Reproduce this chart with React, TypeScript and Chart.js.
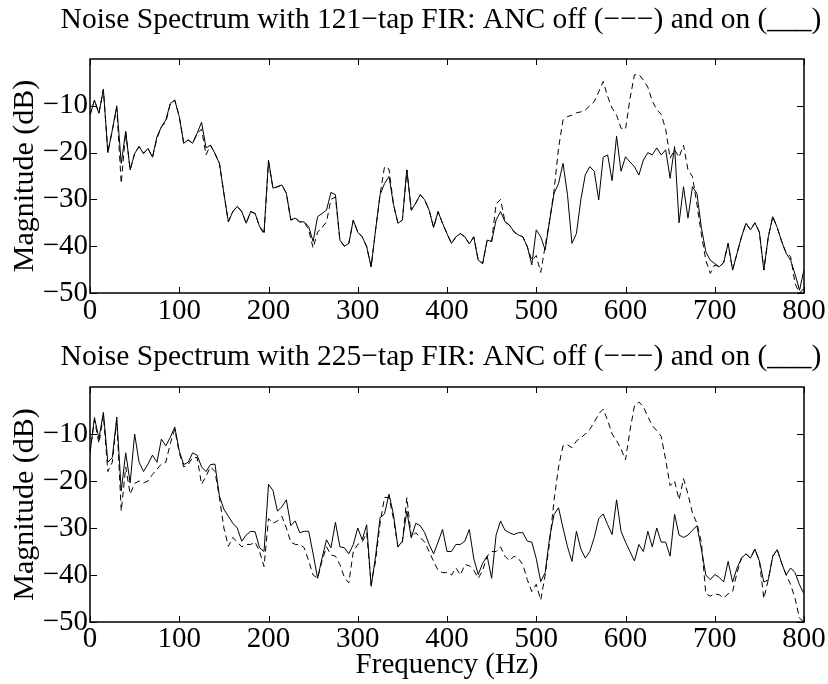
import React, { useEffect, useRef } from 'react';
import { Chart, registerables } from 'chart.js';

Chart.register(...registerables);

const FONT = "'Liberation Serif', 'Times New Roman', serif";
const FONT_SIZE = 29;
const TITLE_SIZE = 29.5;

// Frequency grid (Hz), 5 Hz spacing from 0 to 800
const FREQUENCIES: number[] = Array.from({ length: 161 }, (_, i) => i * 5);
const X_TICKS = [0, 100, 200, 300, 400, 500, 600, 700, 800];
const Y_TICKS = [-50, -40, -30, -20, -10];

const TITLE_121 = 'Noise Spectrum with 121\u2212tap FIR: ANC off (\u2212\u2212\u2212) and on (___)';
const TITLE_225 = 'Noise Spectrum with 225\u2212tap FIR: ANC off (\u2212\u2212\u2212) and on (___)';

// 121-tap FIR, ANC off (dashed), dB
const OFF_121 = [
  -12, -8.8, -11.6, -6.5, -20, -15.2, -10.5, -26.6, -15.5, -23.7,
  -20.2, -18.7, -20.2, -19.1, -21, -17, -14.5, -13.5, -9.5, -8.8,
  -12.3, -18, -17.3, -18, -15.9, -15, -20.5, -18.4, -20.2, -22.3,
  -28.7, -34.8, -32.6, -31.5, -32.6, -35.1, -32.6, -33, -35.8, -37.5,
  -22, -27.6, -27.3, -26.9, -28.7, -34.4, -34, -34.8, -34.8, -36.5,
  -40.4, -37, -36, -34.8, -30, -29.5, -38.7, -40, -39.4, -34.4,
  -37, -38, -40.1, -44.4, -36.5, -29, -23, -23.5, -31, -35.1,
  -34.4, -23.7, -32.3, -30.8, -29, -30.1, -32.3, -36, -32.6, -35.1,
  -37.3, -39.4, -38, -37.3, -38, -39.5, -38, -43, -43.7, -38.7,
  -39, -31, -30, -34.8, -35.5, -36.9, -37.6, -38, -40.1, -43,
  -42, -45.6, -40, -34.5, -28, -19, -13, -12.3, -12, -11.5,
  -11.3, -10.9, -10, -9.1, -7, -4.8, -8, -10.5, -12, -14.8,
  -15, -8.5, -3.4, -3.3, -4.5, -6, -9, -10.8, -11.8, -15,
  -21.2, -19.4, -21, -18.4, -23.7, -25.1, -31, -37.5, -43, -45.8,
  -44, -44.4, -43.5, -39.4, -45.1, -41.5, -38, -35.1, -36.5, -35,
  -37, -45.1, -38, -33.7, -36, -39, -41.5, -42.2, -48, -50,
  -49,
];

// 121-tap FIR, ANC on (solid), dB
const ON_121 = [
  -12, -8.8, -11.6, -6.5, -20, -15.2, -10, -22.3, -15.5, -23.7,
  -20.2, -18.7, -20.2, -19.1, -21, -16.6, -14.5, -13, -9.5, -8.8,
  -12.3, -18, -17.3, -18, -15.9, -13.5, -19, -18.4, -20.2, -22.3,
  -28.7, -34.8, -32.6, -31.5, -32.6, -35.1, -32.6, -33, -35.8, -37,
  -21.6, -27.6, -27.3, -26.9, -28.7, -34.4, -34, -34.8, -34.8, -35.8,
  -39, -33.7, -33, -32.3, -28.5, -29, -38.7, -40, -39.4, -34.4,
  -37, -38, -40.1, -44.4, -36.5, -29, -26.6, -25.1, -31, -35.1,
  -34.4, -23.7, -32.3, -30.8, -29, -30.1, -32.3, -36, -32.6, -35.1,
  -37.3, -39.4, -38, -37.3, -38, -39.5, -38, -43, -43.7, -38.7,
  -39, -34.4, -32.6, -34.8, -35.5, -36.9, -37.6, -38, -40.1, -44,
  -36.5, -38, -40.8, -34.5, -28.7, -26.6, -22.3, -29, -39.4, -37.3,
  -30, -24.7, -23, -24, -30.1, -21, -20.5, -26, -16.5, -24,
  -20.9, -22, -23, -24.8, -21.6, -20, -20.5, -19, -20.5, -19.4,
  -25.5, -18.7, -35, -27.3, -34, -27.3, -28.7, -36, -41.2, -43,
  -43.7, -44.4, -43.5, -39.4, -45.1, -41.5, -38, -35.1, -36.5, -35,
  -37, -45.1, -38, -33.7, -36, -39, -41.5, -43, -46, -49.4,
  -45,
];

// 225-tap FIR, ANC off (dashed), dB
const OFF_225 = [
  -14, -7, -12, -6, -18, -16, -7, -26.4, -17, -22.8,
  -20.5, -20, -20.4, -20, -18.6, -17.5, -16.4, -16, -12, -9,
  -14, -17, -16.5, -15, -15, -20.7, -19, -17, -18, -23.5,
  -30, -33.9, -32, -33, -34, -33.5, -33.5, -33, -35, -38.2,
  -28, -29, -28.5, -27.5, -30, -33, -33.5, -33.5, -34.2, -37,
  -40, -40.7, -37, -34, -35.7, -36, -37.8, -40.5, -41.7, -35,
  -33.5, -33, -31, -42, -37, -29, -23.5, -23.5, -28, -34,
  -33, -23.5, -32, -31, -32, -33, -35, -37.1, -39, -39.5,
  -39.5, -40, -38.5, -40, -37.8, -38, -39, -40.7, -39, -36,
  -35, -35, -34, -36, -37, -36, -36.5, -37.8, -41, -43.5,
  -42, -45.3, -40, -33, -24, -17, -12.5, -12.3, -12.9, -11.5,
  -10.8, -10, -9, -7.5, -5.7, -4.7, -7.1, -10, -11.4, -13.2,
  -15.5, -9.3, -4, -3.2, -4.2, -6.3, -8.2, -9.3, -10.5, -15.5,
  -21, -20, -24, -19.5, -22.8, -26.8, -29, -33, -44, -44.5,
  -44, -44.2, -44.9, -44, -43.5, -39.5, -36.4, -35.5, -36.4, -34.5,
  -37, -45, -41, -36, -34.6, -37.5, -40, -42, -45, -49.2,
  -50,
];

// 225-tap FIR, ANC on (solid), dB
const ON_225 = [
  -14, -6.5, -11, -5.4, -16, -15, -6.4, -22.1, -14, -20.4,
  -10, -16, -18, -16.4, -14.5, -16, -11.1, -12.5, -10.7, -8.5,
  -13.6, -16.5, -16, -14, -14.5, -17, -18, -16.5, -16.4, -23.2,
  -26, -27.5, -29, -30, -32.8, -31.5, -30.7, -30.8, -34.2, -35,
  -20.7, -22, -26.4, -25.5, -24, -29.5, -28.5, -31, -30.7, -30.7,
  -35.5, -40.7, -36.4, -32.5, -34.2, -28.8, -34, -34.2, -35.5, -33.5,
  -30, -32.5, -29.3, -42.4, -36, -27.8, -27, -22.8, -27.1, -34,
  -32.8, -26.4, -32.1, -29, -29.5, -31, -33.5, -35.5, -33, -30.3,
  -35, -35, -33.5, -33.5, -32.8, -30.3, -36.5, -39.9, -37.5, -36,
  -40.7, -31.5, -28.5, -30.5, -31, -31.4, -31, -31, -32.8, -33,
  -36.5, -41.4, -39.5, -32, -27.1, -25.7, -30, -34, -37.1, -30.7,
  -34.5, -36.4, -35, -32, -28, -27, -29.3, -31.4, -24, -30.7,
  -33, -35, -37, -33.5, -35, -30.7, -34, -30, -33, -33,
  -36, -27.1, -31.5, -32, -31.5, -30.5, -29.5, -34.5, -40, -41,
  -39.9, -40.5, -41.5, -37.1, -41.5, -38.5, -36.4, -35.5, -36.4, -34.5,
  -37, -41.5, -41, -36, -34.6, -37.5, -40, -38.5, -39.5, -42.1,
  -44,
];

const fmt = (v: number | string) => {
  const n = Number(v);
  return n < 0 ? '\u2212' + Math.abs(n) : String(n);
};

const framePlugin = {
  id: 'matlabFrame',
  afterDatasetsDraw(chart: any) {
    const { ctx, chartArea: a, scales } = chart;
    ctx.save();
    ctx.strokeStyle = '#000';
    ctx.lineWidth = 1;
    const xs = scales.x;
    const ys = scales.y;
    ctx.beginPath();
    xs.ticks.forEach((t: any) => {
      const px = Math.round(xs.getPixelForValue(t.value)) + 0.5;
      ctx.moveTo(px, a.bottom);
      ctx.lineTo(px, a.bottom - 6);
      ctx.moveTo(px, a.top);
      ctx.lineTo(px, a.top + 6);
    });
    ys.ticks.forEach((t: any) => {
      const py = Math.round(ys.getPixelForValue(t.value)) + 0.5;
      ctx.moveTo(a.left, py);
      ctx.lineTo(a.left + 7, py);
      ctx.moveTo(a.right, py);
      ctx.lineTo(a.right - 7, py);
    });
    ctx.stroke();
    ctx.lineWidth = 1.5;
    ctx.strokeRect(a.left, a.top, a.right - a.left, a.bottom - a.top);
    ctx.restore();
  },
};

// Figure title drawn as text, centred like the original figure title
const figTitlePlugin = {
  id: 'figTitle',
  afterDraw(chart: any, _args: any, opts: any) {
    if (!opts || !opts.text) return;
    const { ctx, chartArea: a } = chart;
    ctx.save();
    ctx.fillStyle = '#000';
    ctx.font = `normal ${TITLE_SIZE}px ${FONT}`;
    ctx.textAlign = 'center';
    ctx.textBaseline = 'middle';
    ctx.fillText(opts.text, (a.left + a.right) / 2 + opts.dx, opts.y);
    ctx.restore();
  },
};

type PlotProps = {
  title: string;
  off: number[];
  on: number[];
  xTitle?: string;
  top: number;
  height: number;
  titleY: number;
  plotTop: number;
  xAxisHeight: number;
  xTickPad: number;
  xTitlePadBottom: number;
};

function SpectrumPlot(p: PlotProps) {
  const ref = useRef<HTMLCanvasElement>(null);
  useEffect(() => {
    if (!ref.current) return;
    const font = { family: FONT, size: FONT_SIZE, weight: 'normal' as const };
    const chart = new Chart(ref.current, {
      type: 'line',
      data: {
        datasets: [
          {
            label: 'ANC off',
            data: FREQUENCIES.map((f, i) => ({ x: f, y: p.off[i] })),
            borderColor: '#000',
            borderWidth: 1,
            borderDash: [6, 4],
            pointRadius: 0,
            fill: false,
            tension: 0,
          },
          {
            label: 'ANC on',
            data: FREQUENCIES.map((f, i) => ({ x: f, y: p.on[i] })),
            borderColor: '#000',
            borderWidth: 1,
            pointRadius: 0,
            fill: false,
            tension: 0,
          },
        ],
      },
      options: {
        responsive: false,
        animation: false,
        devicePixelRatio: 1,
        layout: { padding: { left: 0, right: 24, top: p.plotTop, bottom: 0 } },
        plugins: {
          legend: { display: false },
          tooltip: { enabled: false },
          title: { display: false },
          figTitle: { text: p.title, y: p.titleY, dx: -6 },
        },
        scales: {
          x: {
            type: 'linear',
            min: 0,
            max: 800,
            afterBuildTicks: (s: any) => {
              s.ticks = X_TICKS.map((v) => ({ value: v }));
            },
            afterFit: (s: any) => {
              s.height = p.xAxisHeight;
            },
            grid: { display: false, drawTicks: false },
            border: { display: false },
            ticks: {
              color: '#000',
              font,
              padding: p.xTickPad,
              maxRotation: 0,
              autoSkip: false,
              callback: fmt,
            },
            title: p.xTitle
              ? {
                  display: true,
                  text: p.xTitle,
                  color: '#000',
                  font: { ...font, lineHeight: 1 },
                  padding: { top: 0, bottom: p.xTitlePadBottom },
                }
              : { display: false },
          },
          y: {
            type: 'linear',
            min: -50,
            max: 0,
            afterBuildTicks: (s: any) => {
              s.ticks = Y_TICKS.map((v) => ({ value: v }));
            },
            afterFit: (s: any) => {
              s.width = 90;
            },
            grid: { display: false, drawTicks: false },
            border: { display: false },
            ticks: { color: '#000', font, padding: 2, callback: fmt },
            title: {
              display: true,
              text: 'Magnitude (dB)',
              color: '#000',
              font: { family: FONT, size: 30, weight: 'normal', lineHeight: 1 },
              padding: { top: 10, bottom: 0 },
            },
          },
        },
      } as any,
      plugins: [framePlugin, figTitlePlugin],
    });
    return () => chart.destroy();
  }, []);
  return (
    <canvas
      ref={ref}
      width={828}
      height={p.height}
      style={{ position: 'absolute', left: 0, top: p.top, width: 828, height: p.height }}
    />
  );
}

export default function App() {
  return (
    <div style={{ position: 'absolute', left: 0, top: 0, width: 828, height: 684, background: '#fff' }}>
      <SpectrumPlot
        title={TITLE_121}
        off={OFF_121}
        on={ON_121}
        top={0}
        height={336}
        titleY={20}
        plotTop={59}
        xAxisHeight={43}
        xTickPad={1}
        xTitlePadBottom={0}
      />
      <SpectrumPlot
        title={TITLE_225}
        off={OFF_225}
        on={ON_225}
        xTitle="Frequency (Hz)"
        top={336}
        height={348}
        titleY={21}
        plotTop={51}
        xAxisHeight={62}
        xTickPad={0}
        xTitlePadBottom={4}
      />
    </div>
  );
}
